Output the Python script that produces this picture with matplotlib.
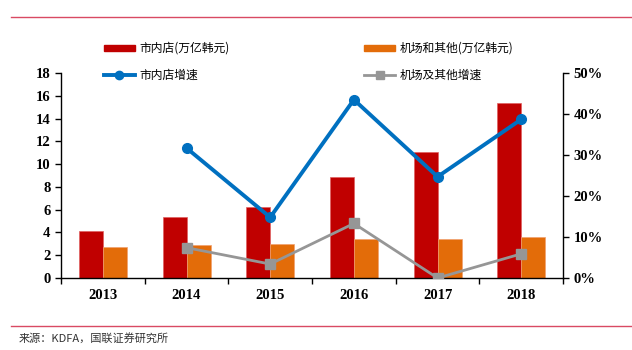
import numpy as np
import matplotlib.pyplot as plt
from matplotlib.lines import Line2D
from matplotlib.patches import Patch

plt.rcParams['font.family'] = ['Noto Sans CJK SC', 'DejaVu Sans']

# 韩国免税店销售额（万亿韩元）
years = ['2013', '2014', '2015', '2016', '2017', '2018']
downtown = [4.1, 5.4, 6.2, 8.9, 11.1, 15.4]
airport = [2.7, 2.9, 3.0, 3.4, 3.4, 3.6]

# 同比增速 (%)，2014 年起
downtown_growth = [31.7, 14.8, 43.5, 24.7, 38.7]
airport_growth = [7.4, 3.4, 13.3, 0.0, 5.9]

red = '#c00000'
orange = '#e36c09'
blue = '#0070c0'
gray = '#969696'
rule = '#d94a63'

fig = plt.figure(figsize=(6.32, 3.5), dpi=100)
ax = fig.add_axes([0.0965, 0.2057, 0.7945, 0.5857])
ax2 = ax.twinx()

x = np.arange(len(years))
w = 0.287
ax.bar(x - w / 2, downtown, w, color=red, edgecolor='#e06060', linewidth=0.5, zorder=2)
ax.bar(x + w / 2, airport, w, color=orange, edgecolor='#f0a070', linewidth=0.5, zorder=2)

ax2.plot(x[1:], downtown_growth, color=blue, lw=2.8, marker='o', ms=7, zorder=3)
ax2.plot(x[1:], airport_growth, color=gray, lw=2, marker='s', ms=7, zorder=3)

ax.set_xlim(-0.5, len(years) - 0.5)
ax.set_ylim(0, 18)
ax.set_yticks(range(0, 19, 2))
ax2.set_ylim(0, 50)
ax2.set_yticks(range(0, 51, 10))
ax2.set_yticklabels([f'{v}%' for v in range(0, 51, 10)])

ax.set_xticks(np.arange(-0.5, len(years), 1))
ax.set_xticklabels([])
ax.set_xticks(x, minor=True)
ax.set_xticklabels(years, minor=True)
ax.tick_params(axis='x', which='minor', length=0, pad=8)
ax.tick_params(axis='x', which='major', length=4, width=1)

for lab in ax.get_xticklabels(minor=True) + ax.get_yticklabels() + ax2.get_yticklabels():
    lab.set_fontfamily('Liberation Serif')
    lab.set_fontweight('bold')
    lab.set_fontsize(10.5)

ax.tick_params(axis='y', length=4, width=1)
ax2.tick_params(axis='y', length=4, width=1)

for a in (ax, ax2):
    a.spines['top'].set_visible(False)
    for s in ('left', 'right', 'bottom'):
        a.spines[s].set_linewidth(1)
ax.spines['right'].set_visible(False)
ax2.spines['left'].set_visible(False)
ax2.spines['bottom'].set_visible(False)

handles = [
    Patch(color=red),
    Line2D([], [], color=blue, lw=2.8, marker='o', ms=6),
    Patch(color=orange),
    Line2D([], [], color=gray, lw=2, marker='s', ms=6),
]
labels = ['市内店(万亿韩元)', '市内店增速', '机场和其他(万亿韩元)', '机场及其他增速']
fig.legend(handles, labels, ncol=2, loc='upper left', bbox_to_anchor=(0.1645, 0.88),
           frameon=False, fontsize=8.5, handlelength=2.6, handleheight=0.35,
           handletextpad=0.4, columnspacing=11.4, labelspacing=1.15,
           borderpad=0, borderaxespad=0)

# 页面上下分隔线与来源
fig.add_artist(Line2D([0.018, 1.0], [0.951, 0.951], color=rule, lw=1))
fig.add_artist(Line2D([0.018, 1.0], [0.070, 0.070], color=rule, lw=1))
fig.text(0.03, 0.034, '来源：KDFA，国联证券研究所', fontsize=8, va='center', color='#333333')

fig.savefig('out.png', dpi=100)
